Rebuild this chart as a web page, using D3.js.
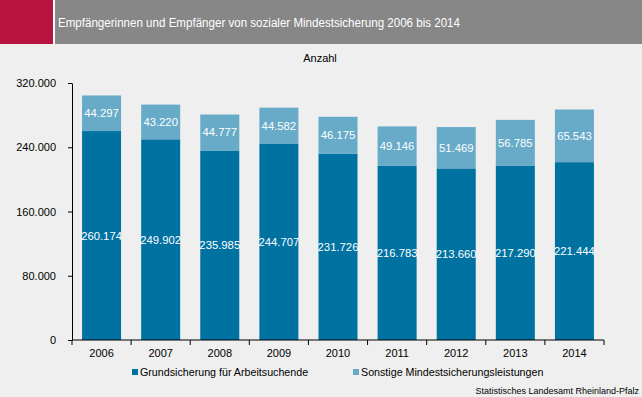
<!DOCTYPE html>
<html>
<head>
<meta charset="utf-8">
<style>
  body { margin: 0; background: #eeefee; }
  svg { display: block; font-family: "Liberation Sans", Arial, sans-serif; }
  .axis path, .axis line { stroke: #000; }
  .axis text { font-size: 11px; fill: #000; font-family: "Liberation Sans", Arial, sans-serif; }
</style>
</head>
<body>
<script src="https://d3js.org/d3.v7.min.js"></script>
<script>
var years = ["2006", "2007", "2008", "2009", "2010", "2011", "2012", "2013", "2014"];
var grundsicherung = [260174, 249902, 235985, 244707, 231726, 216783, 213660, 217290, 221444];
var sonstige = [44297, 43220, 44777, 44582, 46175, 49146, 51469, 56785, 65543];
var yTicks = [0, 80000, 160000, 240000, 320000];
var seriesNames = ["Grundsicherung für Arbeitsuchende", "Sonstige Mindestsicherungsleistungen"];
var colors = ["#0072a2", "#67abc9"];

var width = 642, height = 397;
var plotLeft = 72, plotRight = 604, plotTop = 83, plotBottom = 340;

var fmt = function(v) { return d3.format(",")(v).replace(/,/g, "."); };

var svg = d3.select("body").append("svg")
    .attr("width", width)
    .attr("height", height);

svg.append("rect").attr("width", width).attr("height", height).attr("fill", "#eeefee");

// header
svg.append("rect").attr("x", 0).attr("y", 0).attr("width", 53).attr("height", 44).attr("fill", "#b71540");
svg.append("rect").attr("x", 53).attr("y", 0).attr("width", 2).attr("height", 44).attr("fill", "#ffffff");
svg.append("rect").attr("x", 55).attr("y", 0).attr("width", width - 55).attr("height", 44).attr("fill", "#878787");
svg.append("text")
    .attr("x", 58).attr("y", 27)
    .attr("fill", "#fff")
    .attr("font-size", 12)
    .attr("textLength", 402)
    .attr("lengthAdjust", "spacingAndGlyphs")
    .text("Empfängerinnen und Empfänger von sozialer Mindestsicherung 2006 bis 2014");

svg.append("text")
    .attr("x", 320).attr("y", 62)
    .attr("text-anchor", "middle")
    .attr("font-size", 11)
    .text("Anzahl");

var x = d3.scaleBand().domain(years).range([plotLeft, plotRight]).paddingInner(0.34).paddingOuter(0.17);
var y = d3.scaleLinear().domain([0, 320000]).range([plotBottom, plotTop]);

var data = years.map(function(yr, i) {
  return { year: yr, a: grundsicherung[i], b: sonstige[i] };
});

var g = svg.append("g");

// bars
g.selectAll(".base").data(data).enter().append("rect")
    .attr("x", function(d) { return x(d.year); })
    .attr("width", x.bandwidth())
    .attr("y", function(d) { return y(d.a); })
    .attr("height", function(d) { return y(0) - y(d.a); })
    .attr("fill", colors[0]);

g.selectAll(".top").data(data).enter().append("rect")
    .attr("x", function(d) { return x(d.year); })
    .attr("width", x.bandwidth())
    .attr("y", function(d) { return y(d.a + d.b); })
    .attr("height", function(d) { return y(d.a) - y(d.a + d.b); })
    .attr("fill", colors[1]);

// value labels
g.selectAll(".lblA").data(data).enter().append("text")
    .attr("x", function(d) { return x(d.year) + x.bandwidth() / 2; })
    .attr("y", function(d) { return (y(0) + y(d.a)) / 2 + 4; })
    .attr("text-anchor", "middle")
    .attr("font-size", 11.3)
    .attr("fill", "#fff")
    .text(function(d) { return fmt(d.a); });

g.selectAll(".lblB").data(data).enter().append("text")
    .attr("x", function(d) { return x(d.year) + x.bandwidth() / 2; })
    .attr("y", function(d) { return (y(d.a) + y(d.a + d.b)) / 2 + 4; })
    .attr("text-anchor", "middle")
    .attr("font-size", 11.3)
    .attr("fill", "#fff")
    .text(function(d) { return fmt(d.b); });

// y axis
svg.append("g").attr("class", "axis")
    .attr("transform", "translate(" + plotLeft + ",0)")
    .call(d3.axisLeft(y).tickValues(yTicks).tickFormat(fmt).tickSize(4).tickSizeOuter(0).tickPadding(12));

// x axis with ticks at category boundaries
var xAxis = svg.append("g").attr("class", "axis")
    .attr("transform", "translate(0," + plotBottom + ")");
xAxis.append("line").attr("x1", plotLeft).attr("x2", plotRight).attr("y1", 0).attr("y2", 0).attr("stroke", "#000");
var bounds = d3.range(years.length + 1).map(function(i) { return plotLeft + i * x.step(); });
xAxis.selectAll(".tk").data(bounds).enter().append("line")
    .attr("x1", function(d) { return d; }).attr("x2", function(d) { return d; })
    .attr("y1", 0).attr("y2", 5).attr("stroke", "#000");
xAxis.selectAll(".yl").data(years).enter().append("text")
    .attr("x", function(d) { return x(d) + x.bandwidth() / 2; })
    .attr("y", 17)
    .attr("text-anchor", "middle")
    .attr("font-size", 11)
    .text(function(d) { return d; });

// legend
var legendX = [132, 353];
var legend = svg.append("g");
seriesNames.forEach(function(name, i) {
  legend.append("rect").attr("x", legendX[i]).attr("y", 369).attr("width", 6).attr("height", 6).attr("fill", colors[i]);
  legend.append("text").attr("x", legendX[i] + 8).attr("y", 376).attr("font-size", 10.7).text(name);
});

svg.append("text")
    .attr("x", 639).attr("y", 394)
    .attr("text-anchor", "end")
    .attr("font-size", 9)
    .text("Statistisches Landesamt Rheinland-Pfalz");
</script>
</body>
</html>
